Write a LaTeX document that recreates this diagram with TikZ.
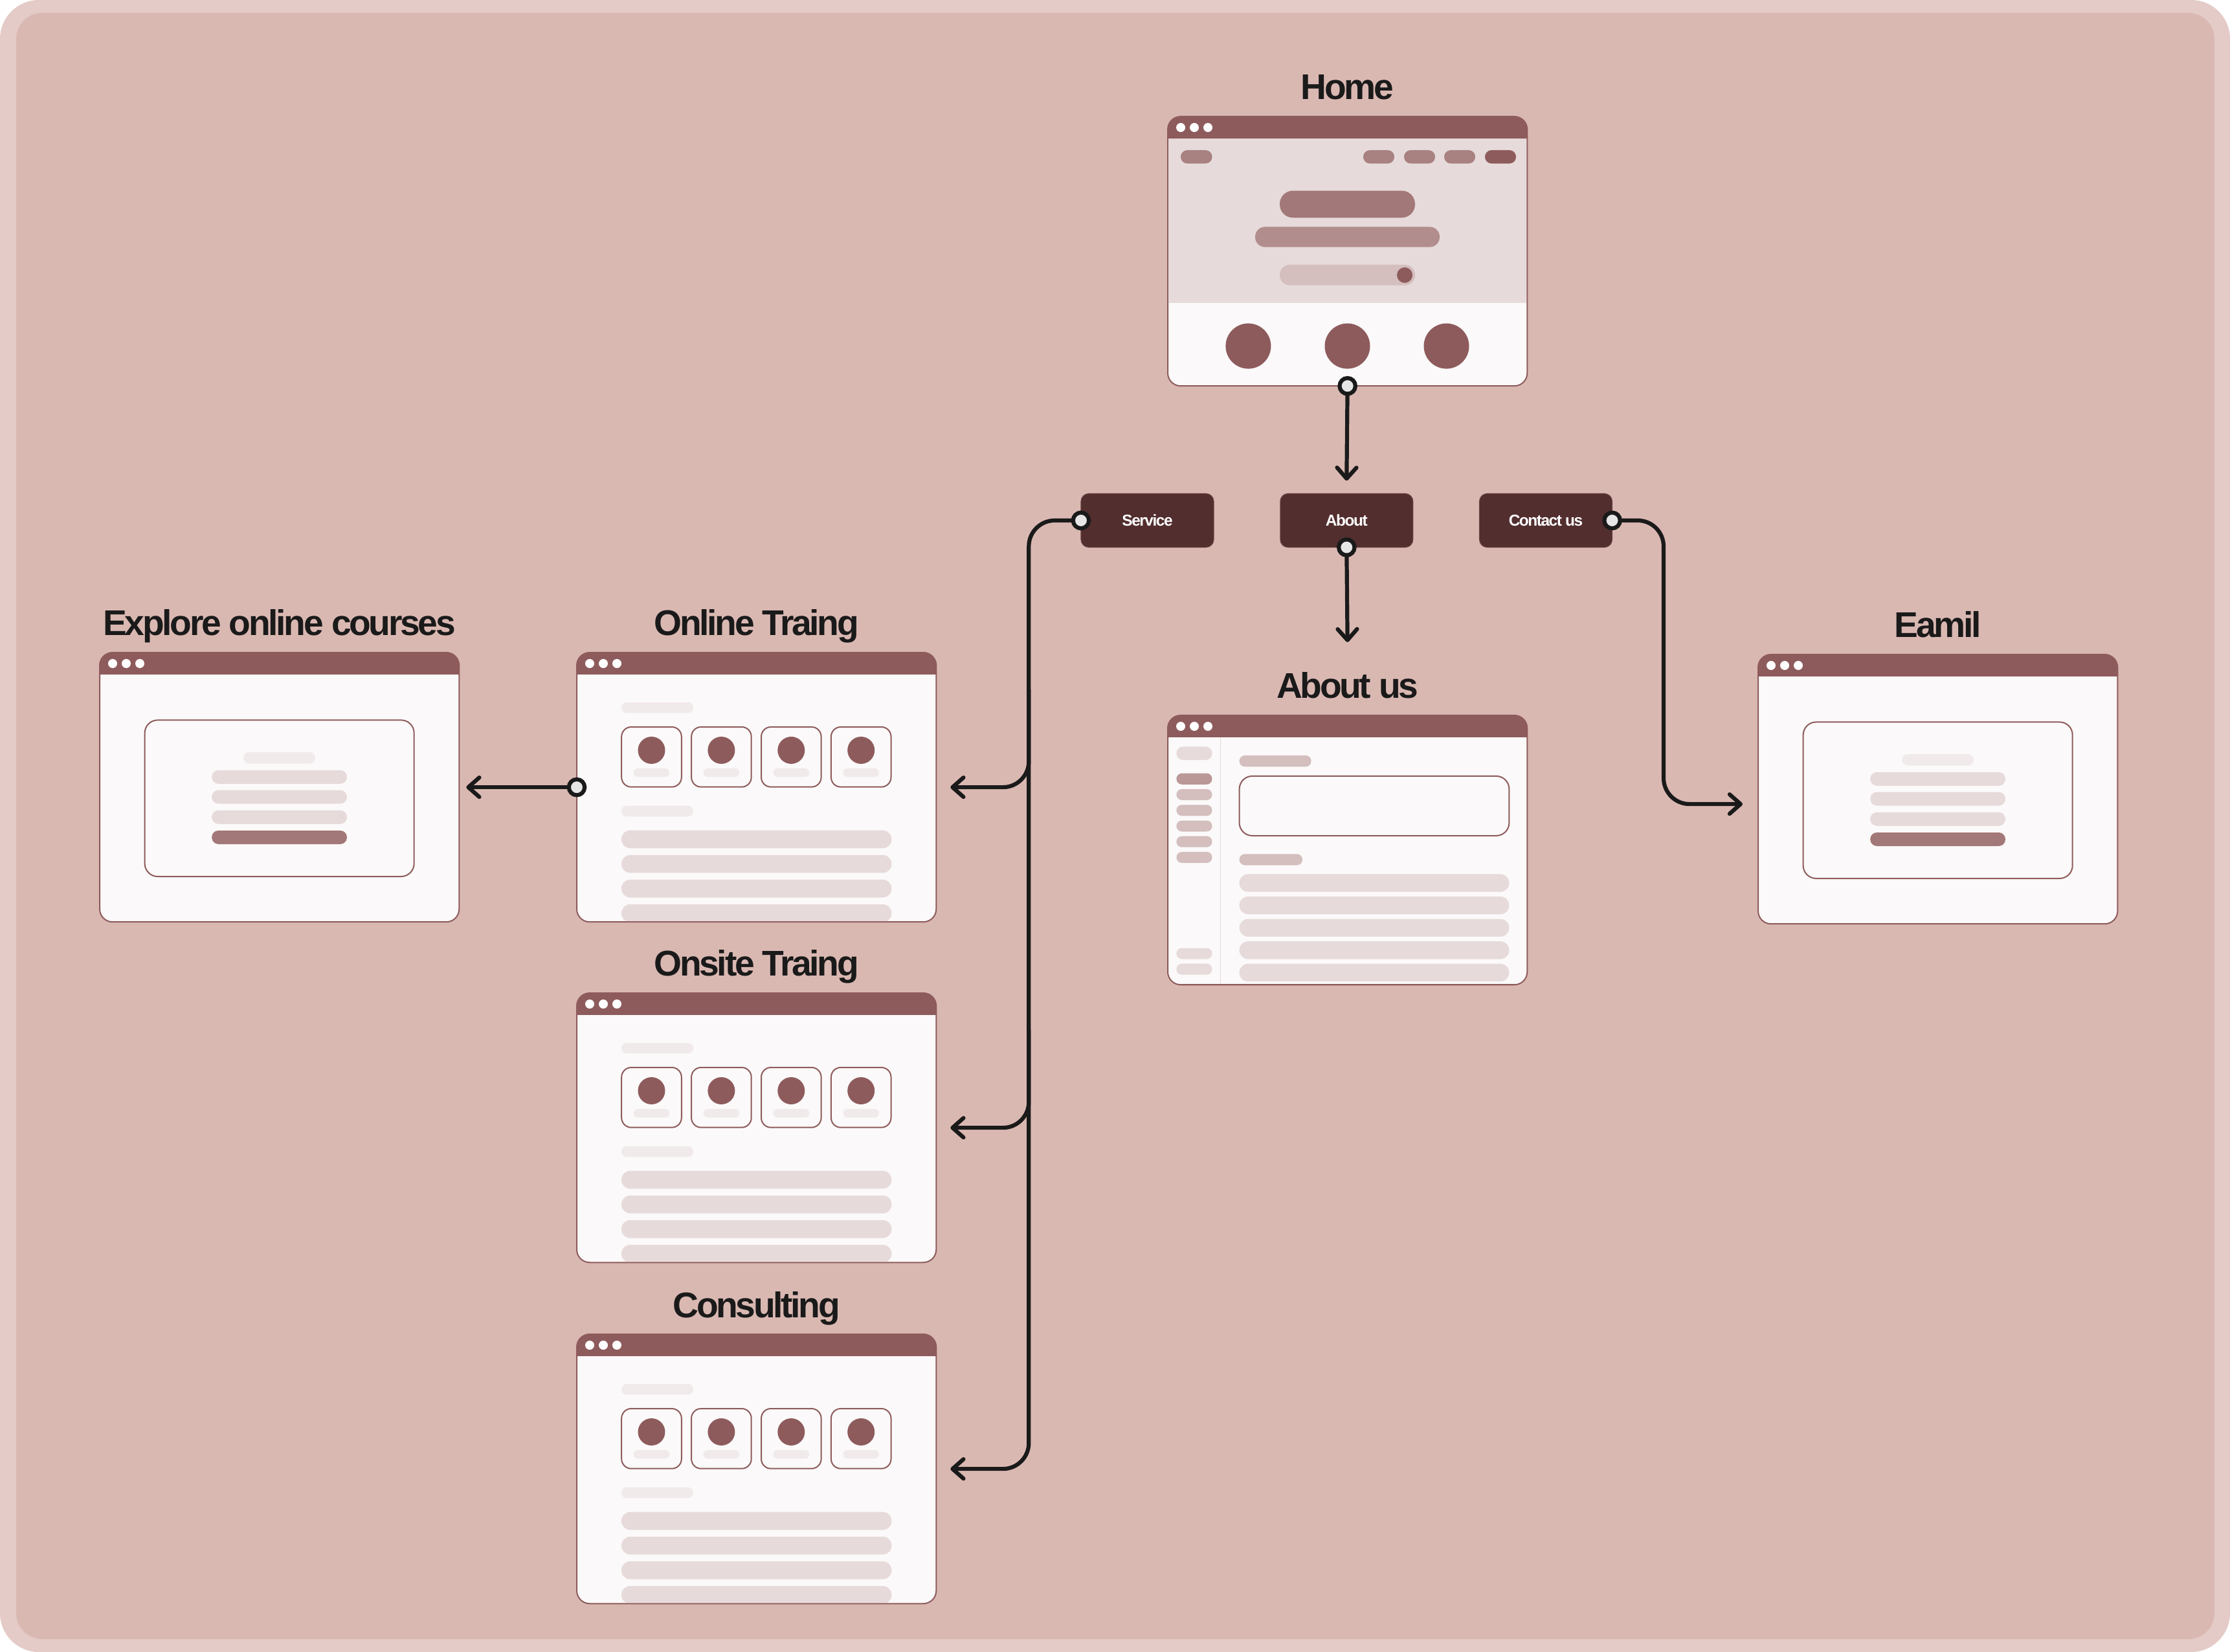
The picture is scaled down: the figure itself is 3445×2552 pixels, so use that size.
\documentclass[tikz,border=0pt]{standalone}
\usepackage{fontspec}
\setmainfont{Liberation Sans}
\newfontfamily\tightsans{Liberation Sans}[LetterSpace=-6]
\usetikzlibrary{arrows.meta,calc}

\definecolor{band}{HTML}{E4CBC7}
\definecolor{canvas}{HTML}{DAB8B2}
\definecolor{paper}{HTML}{FBF9F9}
\definecolor{wine}{HTML}{8E5B5C}
\definecolor{btn}{HTML}{532E2F}
\definecolor{btnedge}{HTML}{6E4748}
\definecolor{blush}{HTML}{E7DADA}
\definecolor{mist}{HTML}{F1EAEA}
\definecolor{rose}{HTML}{A88181}
\definecolor{mauve}{HTML}{A37878}
\definecolor{dusk}{HTML}{B18E8D}
\definecolor{haze}{HTML}{D4BEBE}
\definecolor{taupe}{HTML}{BA9898}
\definecolor{ink}{HTML}{1A1A1A}
\definecolor{socketfill}{HTML}{E6E6E6}

\tikzset{
  window/.style={draw=wine, line width=0.02cm, fill=paper, rounded corners=0.2cm,
    minimum width=5.55cm, minimum height=4.16cm, anchor=north west, inner sep=0, outer sep=0},
  heading/.style={font=\tightsans\bfseries\fontsize{15.7pt}{18pt}\selectfont, text=ink, anchor=base},
  navbtn/.style={fill=btn, draw=btnedge, line width=0.01cm, rounded corners=0.12cm,
    minimum width=2.05cm, minimum height=0.83cm, inner sep=0, outer sep=0,
    text=white, font=\tightsans\bfseries\fontsize{6.95pt}{8pt}\selectfont},
  link/.style={draw=ink, line width=0.062cm, line cap=round, line join=round,
    rounded corners=0.4cm, -{Straight Barb[length=0.17cm, width=0.3cm, round]}},
  socket/.style={circle, draw=ink, fill=socketfill, line width=0.062cm,
    minimum size=0.244cm, inner sep=0},
}

% rounded bar, fully round ends
\newcommand{\pill}[5]{\fill[#1, rounded corners={(#5-#3)*0.0049cm}] (#2,#3) rectangle (#4,#5);}

% title bar with the three dots
\newcommand{\chrome}[1]{%
  \begin{scope}
    \clip[rounded corners=0.2cm] (#1.north west) rectangle (#1.south east);
    \fill[wine] (#1.north west) rectangle ([yshift=-0.34cm]#1.north east);
  \end{scope}
  \foreach \dx in {20,41,62}
    \fill[white] ([shift={(\dx,17)}]#1.north west) circle [radius=7];
}

% page with four cards and text lines
\newcommand{\cards}[1]{%
  \begin{scope}[shift={(#1.north west)}]
    \clip[rounded corners=0.2cm] (1,1) rectangle (554,415);
    \pill{mist}{69}{77}{180}{93.3}
    \foreach \cx in {69.2,177.1,285,392.9} {
      \filldraw[fill=paper, draw=wine, line width=0.02cm, rounded corners=0.15cm]
        (\cx,115) rectangle (\cx+92.6,207.7);
      \fill[wine] (\cx+46.3,151) circle [radius=21];
      \pill{mist}{\cx+18.6}{179}{\cx+74}{192.3}
    }
    \pill{mist}{69}{236.7}{180}{253.3}
    \foreach \ly in {274.7,312.8,350.9,389} {\pill{blush}{69}{\ly}{486.4}{\ly+27.6}}
  \end{scope}
}

% page with a centred dialog box
\newcommand{\dialog}[1]{%
  \begin{scope}[shift={(#1.north west)}]
    \draw[wine, line width=0.02cm, rounded corners=0.2cm] (69.6,104.4) rectangle (485.7,346);
    \pill{mist}{222.2}{154}{333}{171.5}
    \foreach \ly in {181.8,212.6,243.8} {\pill{blush}{173.2}{\ly}{382}{\ly+21}}
    \pill{mauve}{173.2}{275}{382}{296}
  \end{scope}
}

\begin{document}
\begin{tikzpicture}[x=0.01cm, y=-0.01cm]
\useasboundingbox (0,0) rectangle (3445,2552);

% backdrop
\fill[white] (0,0) rectangle (3445,2552);
\fill[band, rounded corners=0.6cm] (0,0) rectangle (3445,2552);
\fill[canvas, rounded corners=0.4cm] (25,20) rectangle (3421,2532);

% pages
\node[window] (home) at (1804,180) {};
\node[window] (aboutus) at (1804,1105) {};
\node[window] (explore) at (154,1008) {};
\node[window] (online) at (891,1008) {};
\node[window] (onsite) at (891,1534) {};
\node[window] (consult) at (891,2061) {};
\node[window] (email) at (2716,1011) {};

\foreach \w in {home,aboutus,explore,online,onsite,consult,email} {\chrome{\w}}

% home page: hero, nav and three features
\begin{scope}[shift={(home.north west)}]
  \fill[blush] (1,34) rectangle (554,288.5);
  \pill{rose}{20}{52}{68.5}{72.6}
  \foreach \nx in {302,365,427} {\pill{rose}{\nx}{52}{\nx+48}{72.6}}
  \pill{wine}{490}{52}{538}{72.6}
  \pill{mauve}{173}{114.6}{382}{156.3}
  \pill{dusk}{135}{170.4}{420}{201.7}
  \pill{haze}{173}{229}{382}{260.6}
  \fill[wine] (366,245) circle [radius=12];
  \foreach \cx in {124.4,277.5,430.5} \fill[wine] (\cx,354.6) circle [radius=35];
\end{scope}

% about page: sidebar and content
\begin{scope}[shift={(aboutus.north west)}]
  \draw[blush, line width=0.015cm] (81.5,35) -- (81.5,415);
  \pill{blush}{13.4}{48.4}{68.5}{69}
  \pill{taupe}{13.4}{89.6}{68.5}{106.8}
  \foreach \sy in {114,138.3,162.5,186.7,211} {\pill{haze}{13.4}{\sy}{68.5}{\sy+17}}
  \foreach \sy in {359.5,383.7} {\pill{blush}{13.4}{\sy}{68.5}{\sy+17}}
  \pill{haze}{110.6}{62}{221.6}{79.3}
  \draw[wine, line width=0.02cm, rounded corners=0.2cm] (110.6,93.9) rectangle (527.4,186);
  \pill{haze}{110.6}{214.3}{208}{231.5}
  \foreach \ly in {245.4,280,314.6,349.2,383.8} {\pill{blush}{110.6}{\ly}{527.4}{\ly+27.3}}
\end{scope}

\foreach \w in {online,onsite,consult} {\cards{\w}}
\foreach \w in {explore,email} {\dialog{\w}}

% page titles
\node[heading] (homettl) at ([yshift=0.26cm]home.north) {Home};
\node[heading] (aboutttl) at ([yshift=0.26cm]aboutus.north) {About us};
\node[heading] (explorettl) at ([yshift=0.26cm]explore.north) {Explore online courses};
\node[heading] (onlinettl) at ([yshift=0.26cm]online.north) {Online Traing};
\node[heading] (onsitettl) at ([yshift=0.26cm]onsite.north) {Onsite Traing};
\node[heading] (consultttl) at ([yshift=0.26cm]consult.north) {Consulting};
\node[heading] (emailttl) at ([yshift=0.26cm]email.north) {Eamil};

% menu
\node[navbtn] (svc) at (1772.5,804) {Service};
\node[navbtn] (abt) at (2080.3,804) {About};
\node[navbtn] (cnt) at (2388,804) {Contact us};

% links
\draw[link] (home.south) -- ([yshift=0.2cm]abt.north);
\draw[link] (abt.south) -- ([yshift=1.13cm]aboutus.north);
\draw[link] (svc.west) -| ($(consult.east)+(143,0)$) -- ([xshift=0.22cm]consult.east);
\draw[link] ($(online.east)+(143,-150)$) |- ([xshift=0.22cm]online.east);
\draw[link] ($(onsite.east)+(143,-150)$) |- ([xshift=0.22cm]onsite.east);
\draw[link] (online.west) -- ([xshift=0.11cm]explore.east);
\draw[link] (cnt.east) -| ($(email.west)+(-146,23)$) -- ($(email.west)+(-24,23)$);

\foreach \s/\at in {sk1/home.south, sk2/abt.south, sk3/svc.west, sk4/cnt.east, sk5/online.west}
  \node[socket] (\s) at (\at) {};
\end{tikzpicture}
\end{document}
